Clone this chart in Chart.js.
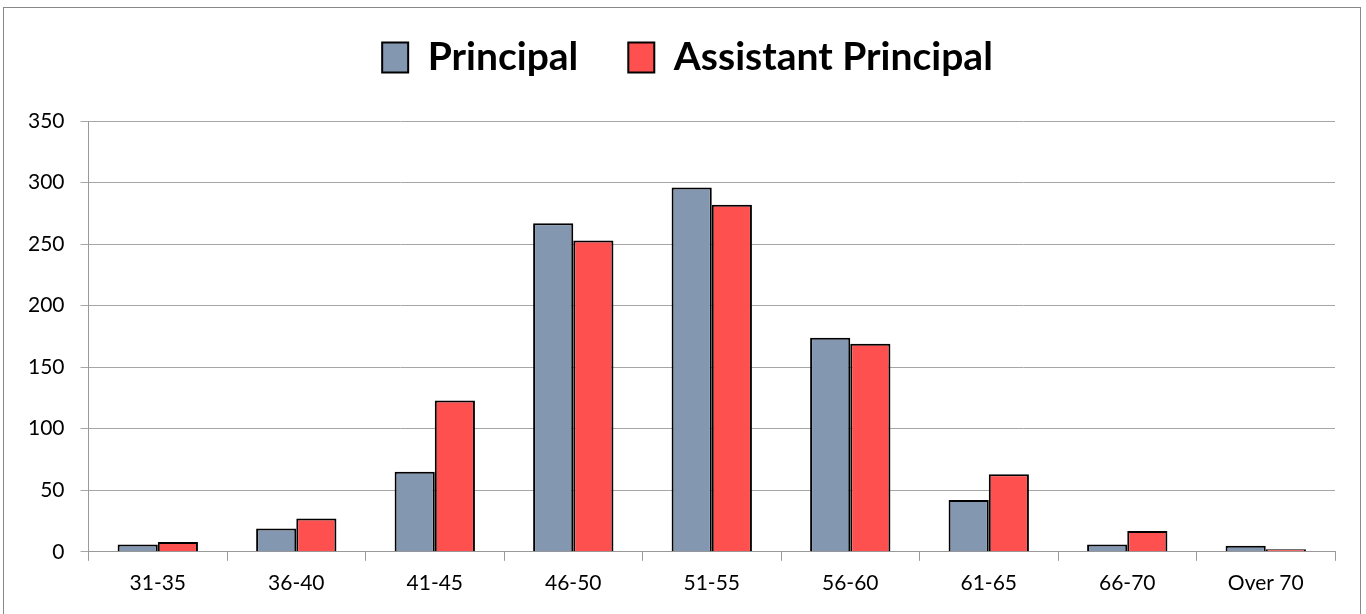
<!DOCTYPE html>
<html>
    <head>
        <script src="https://cdn.jsdelivr.net/npm/chart.js@4.4.0/dist/chart.umd.min.js"></script>
        <style>
            body { margin: 0; background: #fff; }
            #box { position: absolute; left: 3px; top: 7px; width: 1358px; height: 620px; border: 1px solid #888; box-sizing: border-box; }
            #wrap { position: absolute; left: 0; top: 0; width: 1356px; height: 605px; }
        </style>
    </head>
    <body>
        <div id="box"><div id="wrap"><canvas id="myChart"></canvas></div></div>
        <script>
        var ageGroups = ['31-35', '36-40', '41-45', '46-50', '51-55', '56-60', '61-65', '66-70', 'Over 70'];
        var principal = [6, 19, 65, 267, 296, 174, 42, 6, 5];
        var assistant = [8, 27, 123, 253, 282, 169, 63, 17, 2];
        var yTicks = [0, 50, 100, 150, 200, 250, 300, 350];

        // extra room under the legend, and nudge it a bit to the right
        var legendGap = {
            id: 'legendGap',
            afterInit: function(chart) {
                var fit = chart.legend.fit;
                chart.legend.fit = function() {
                    fit.call(this);
                    this.height += 34;
                };
            },
            afterLayout: function(chart) {
                chart.legend.left += 14;
                chart.legend.right += 14;
            }
        };

        var ctx = document.getElementById('myChart');
        var myChart = new Chart(ctx, {
            type: 'bar',
            data: {
                labels: ageGroups,
                datasets: [
                {
                    label: 'Principal',
                    data: principal,
                    backgroundColor: '#8497B0',
                    borderColor: '#000',
                    borderWidth: 2
                },
                {
                    label: 'Assistant Principal',
                    data: assistant,
                    backgroundColor: '#FF5050',
                    borderColor: '#000',
                    borderWidth: 2
                }
                ]
            },
            options: {
                responsive: true,
                maintainAspectRatio: false,
                animation: false,
                layout: { padding: { left: 8, right: 25, top: -20, bottom: 7 } },
                datasets: { bar: { categoryPercentage: 0.58, barPercentage: 1.0 } },
                plugins: {
                    tooltip: { enabled: false },
                    legend: {
                        position: 'top',
                        labels: {
                            color: '#000',
                            font: { family: 'Lato', size: 39, weight: 'bold' },
                            boxWidth: 26,
                            boxHeight: 30,
                            padding: 50
                        }
                    }
                },
                scales: {
                    x: {
                        grid: { offset: true, drawOnChartArea: false, drawTicks: true, tickLength: 9, color: '#999' },
                        border: { color: '#999', width: 1 },
                        ticks: { color: '#000', font: { family: 'Lato', size: 21 }, padding: 10 }
                    },
                    y: {
                        min: 0,
                        max: 350,
                        afterBuildTicks: function(axis) { axis.ticks = yTicks.map(function(v) { return { value: v }; }); },
                        grid: { color: '#a6a6a6', lineWidth: 1, tickLength: 8 },
                        border: { color: '#999', width: 1 },
                        ticks: { color: '#000', font: { family: 'Lato', size: 21 }, padding: 16 }
                    }
                }
            },
            plugins: [legendGap]
        });
        </script>
    </body>
</html>
